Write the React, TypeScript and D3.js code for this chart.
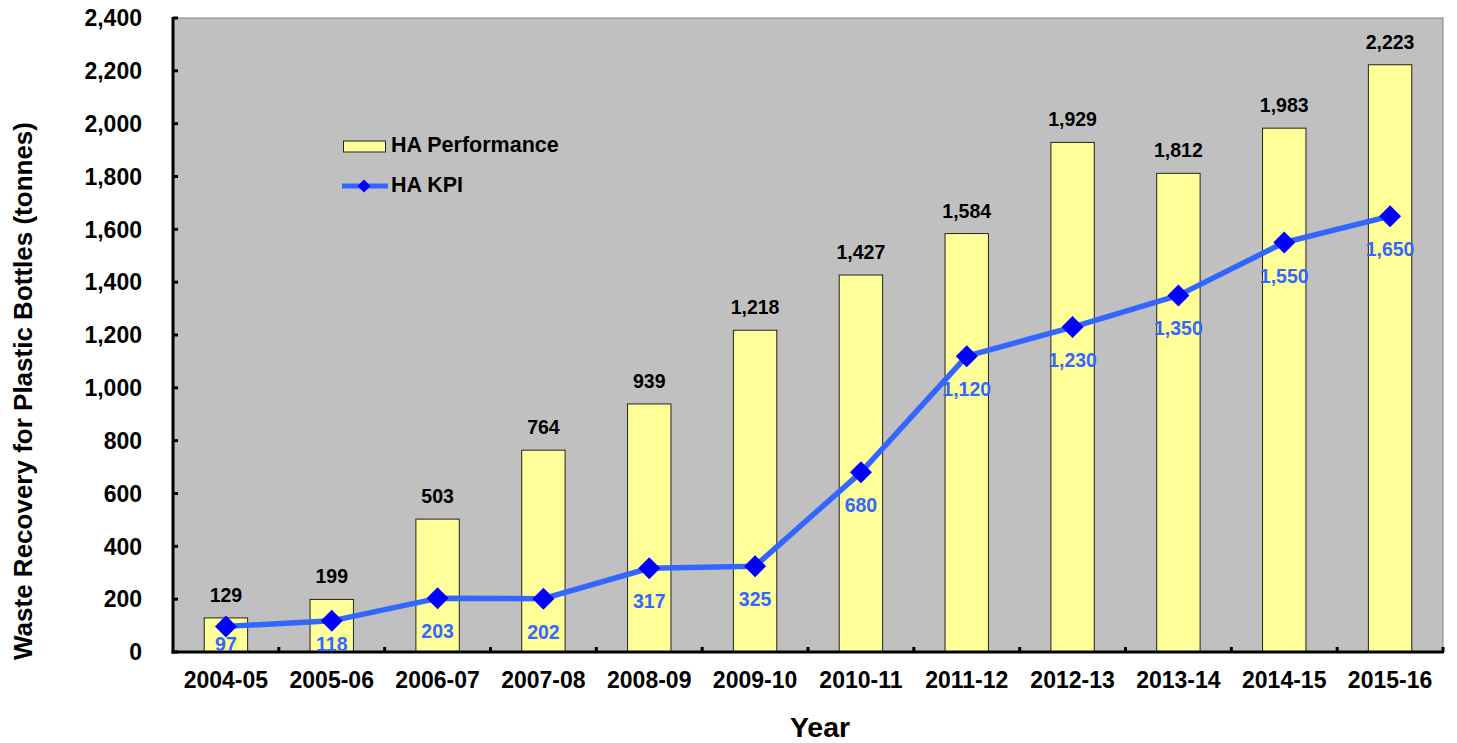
import React from "react";
import * as d3 from "d3";

const years = ["2004-05","2005-06","2006-07","2007-08","2008-09","2009-10","2010-11","2011-12","2012-13","2013-14","2014-15","2015-16"];
const performance = [129,199,503,764,939,1218,1427,1584,1929,1812,1983,2223];
const kpi = [97,118,203,202,317,325,680,1120,1230,1350,1550,1650];
const yTicks = [0,200,400,600,800,1000,1200,1400,1600,1800,2000,2200,2400];

const W = 1457, H = 743;
const L = 173, R = 1443, T = 18, B = 652;
const FONT = "Arial, 'Liberation Sans', sans-serif";

export default function App() {
  const x = d3.scaleBand().domain(years).range([L, R]).paddingInner(0).paddingOuter(0);
  const y = d3.scaleLinear().domain([0, 2400]).range([B, T]);
  const bw = x.bandwidth() * 0.41;
  const cx = (d: string) => (x(d) as number) + x.bandwidth() / 2;
  const fmt = d3.format(",");
  const line = d3.line<number>().x((_, i) => cx(years[i])).y((d) => y(d));
  const diamond = (px: number, py: number, s: number) => `M${px},${py - s}L${px + s},${py}L${px},${py + s}L${px - s},${py}Z`;

  return (
    <svg width={W} height={H} style={{ position: "absolute", left: 0, top: 0, fontFamily: FONT }}>
      <rect x={0} y={0} width={W} height={H} fill="#fff" />
      <rect x={L} y={T} width={R - L} height={B - T} fill="#C0C0C0" stroke="#808080" strokeWidth={1} />
      {performance.map((v, i) => (
        <rect key={"b" + i} x={cx(years[i]) - bw / 2} y={y(v)} width={bw} height={B - y(v)} fill="#FFFF99" stroke="#222" strokeWidth={1} />
      ))}
      {performance.map((v, i) => (
        <text key={"bl" + i} x={cx(years[i])} y={y(v) - 16} textAnchor="middle" fontSize={19.5} fontWeight="bold" fill="#000">{fmt(v)}</text>
      ))}
      {/* axes */}
      <line x1={L} y1={T - 1} x2={L} y2={B + 1.5} stroke="#000" strokeWidth={3} />
      <line x1={L - 1.5} y1={B} x2={R + 1} y2={B} stroke="#000" strokeWidth={3} />
      {yTicks.map((t) => (
        <g key={"yt" + t}>
          <line x1={L} x2={L + 5} y1={y(t)} y2={y(t)} stroke="#000" strokeWidth={3} />
          <text x={142} y={y(t)} dy="0.36em" textAnchor="end" fontSize={23} fontWeight="bold">{fmt(t)}</text>
        </g>
      ))}
      {years.map((yr) => (
        <g key={"xt" + yr}>
          <line x1={(x(yr) as number) + x.bandwidth()} x2={(x(yr) as number) + x.bandwidth()} y1={B} y2={B - 5} stroke="#000" strokeWidth={3} />
          <text x={cx(yr)} y={688} textAnchor="middle" fontSize={23} fontWeight="bold">{yr}</text>
        </g>
      ))}
      {/* KPI line */}
      <path d={line(kpi) || ""} fill="none" stroke="#3366FF" strokeWidth={5.5} strokeLinejoin="round" />
      {kpi.map((v, i) => (
        <path key={"m" + i} d={diamond(cx(years[i]), y(v), 11)} fill="#0000FF" />
      ))}
      {kpi.map((v, i) => (
        <text key={"kl" + i} x={cx(years[i])} y={Math.min(y(v) + 40, B - 1)} textAnchor="middle" fontSize={19.5} fontWeight="bold" fill="#3366FF">{fmt(v)}</text>
      ))}
      {/* legend */}
      <rect x={343.5} y={141} width={42} height={11} fill="#FFFF99" stroke="#222" strokeWidth={1} />
      <text x={391} y={152} fontSize={21.5} fontWeight="bold">HA Performance</text>
      <line x1={342} x2={388} y1={186} y2={186} stroke="#3366FF" strokeWidth={5} />
      <path d={diamond(364, 186, 6.5)} fill="#0000FF" />
      <text x={391} y={192} fontSize={21.5} fontWeight="bold">HA KPI</text>
      {/* titles */}
      <text x={820} y={737} textAnchor="middle" fontSize={28.5} fontWeight="bold">Year</text>
      <text transform={`translate(32,391) rotate(-90)`} textAnchor="middle" fontSize={26} fontWeight="bold">Waste Recovery for Plastic Bottles (tonnes)</text>
    </svg>
  );
}
